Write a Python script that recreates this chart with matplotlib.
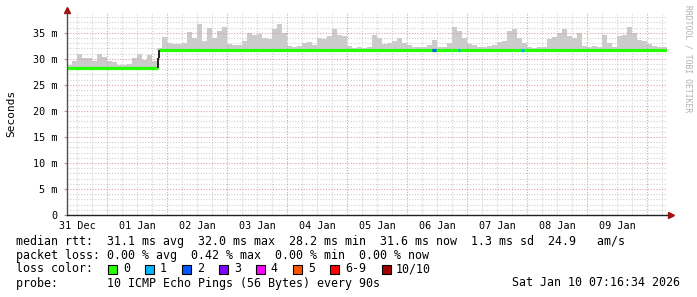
import matplotlib
matplotlib.use('Agg')
import matplotlib.pyplot as plt
from matplotlib.patches import Rectangle
import numpy as np

# ---------------- data ----------------
BIN_HOURS = 2          # smoke bins (hours since graph start, Dec 31 ~07:50)
TOTAL_HOURS = 240
smoke_top = [
    28.9, 29.6, 31.0, 30.2, 30.1, 29.6, 31.0, 30.3, 29.6, 29.3,
    28.8, 28.9, 29.0, 30.2, 31.0, 29.8, 30.8, 29.5, 32.0, 34.2,
    33.0, 32.9, 32.9, 33.0, 35.1, 34.1, 36.7, 33.4, 36.0, 34.0,
    35.4, 36.2, 32.8, 32.6, 32.6, 33.5, 35.0, 34.6, 34.8, 34.0,
    33.8, 35.7, 36.7, 35.0, 32.4, 32.3, 32.5, 33.0, 33.3, 32.6,
    34.0, 33.8, 34.4, 35.7, 34.5, 34.3, 32.4, 32.1, 32.3, 32.0,
    32.3, 34.5, 34.0, 32.8, 33.0, 33.5, 34.1, 33.0, 32.6, 32.3,
    32.2, 32.3, 32.6, 33.6, 32.3, 32.2, 33.0, 36.2, 35.3, 34.0,
    32.8, 32.6, 32.3, 32.2, 32.4, 32.6, 33.3, 33.5, 35.3, 35.7,
    34.0, 33.0, 32.2, 32.1, 32.3, 32.2, 33.9, 34.2, 35.0, 35.7,
    34.3, 34.0, 35.0, 32.5, 32.3, 32.4, 32.3, 34.6, 33.0, 32.3,
    34.3, 34.6, 36.2, 35.0, 33.7, 33.5, 32.8, 32.5, 32.3, 32.2,
]
median_edges = [0, 36.4, 36.8, 240]
median_vals = [28.2, 30.2, 31.7]
loss_seg_start = [146.0, 156.4, 181.6]
loss_seg_end = [147.6, 157.0, 182.8]
loss_seg_level = [2, 1, 1]

loss_labels = ['0', '1', '2', '3', '4', '5', '6-9', '10/10']
loss_colors = ['#26ff00', '#00b8ff', '#0059ff', '#7e00ff', '#ff00ff',
               '#ff5500', '#ff0000', '#a10000']

ytick_vals = [0, 5, 10, 15, 20, 25, 30, 35]
ytick_labels = ['0', '5 m', '10 m', '15 m', '20 m', '25 m', '30 m', '35 m']
day_labels = ['31 Dec', '01 Jan', '02 Jan', '03 Jan', '04 Jan',
              '05 Jan', '06 Jan', '07 Jan', '08 Jan', '09 Jan']
FIRST_MIDNIGHT = 16.17   # hours after start

legend_lines = [
    'median rtt:  31.1 ms avg  32.0 ms max  28.2 ms min  31.6 ms now  1.3 ms sd  24.9   am/s',
    'packet loss: 0.00 % avg  0.42 % max  0.00 % min  0.00 % now',
    'loss color:',
    'probe:       10 ICMP Echo Pings (56 Bytes) every 90s',
]
timestamp = 'Sat Jan 10 07:16:34 2026'

# ---------------- figure ----------------
W, H = 697, 297
plt.rcParams['font.family'] = ['DejaVu Sans Mono']
fig = plt.figure(figsize=(W / 100, H / 100), dpi=100)
fig.patch.set_facecolor('white')
L, R, T, B = 67, 667, 12, 215
ax = fig.add_axes([L / W, 1 - B / H, (R - L) / W, (B - T) / H])
ax.set_facecolor('white')
YMAX = 39.0
ax.set_xlim(0, TOTAL_HOURS)
ax.set_ylim(0, YMAX)

# grid (drawn over the smoke, like rrdtool)
minor_col = '#d0d0d0'
major_col = '#e2a0a0'
for v in np.arange(1, YMAX, 1):
    if v % 5 != 0:
        ax.axhline(v, color=minor_col, lw=0.8, ls=(0, (1, 1.5)), zorder=1.5)
for v in ytick_vals[1:]:
    ax.axhline(v, color=major_col, lw=0.8, ls=(0, (1, 1.5)), zorder=1.6)
m = FIRST_MIDNIGHT - 24
hours6 = np.arange(m, TOTAL_HOURS, 6)
for h in hours6:
    if h <= 0:
        continue
    is_major = abs(((h - FIRST_MIDNIGHT) / 24) - round((h - FIRST_MIDNIGHT) / 24)) < 1e-6
    ax.axvline(h, color=major_col if is_major else minor_col, lw=0.8,
               ls=(0, (1, 1.5)), zorder=1.6 if is_major else 1.5)

# smoke
edges = np.arange(len(smoke_top) + 1) * BIN_HOURS
centers = edges[:-1] + BIN_HOURS / 2
med_at = np.array([median_vals[np.searchsorted(median_edges, c, side='right') - 1]
                   if c > median_edges[2] else median_vals[0] for c in centers])
top = np.array(smoke_top)
ax.bar(edges[:-1], top - med_at, bottom=med_at, width=BIN_HOURS, align='edge',
       color='#cbcbcb', linewidth=0, zorder=1)

# median line
ax.vlines(median_edges[1:-1], median_vals[:-1], median_vals[1:], color='black',
          lw=1.2, zorder=3)
ax.hlines(median_vals, median_edges[:-1], median_edges[1:], color=loss_colors[0],
          lw=2.3, zorder=2)
for s, e, lv in zip(loss_seg_start, loss_seg_end, loss_seg_level):
    ax.hlines(median_vals[-1], s, e, color=loss_colors[lv], lw=2.3, zorder=2.5)

# axes styling
for sp in ['top', 'right']:
    ax.spines[sp].set_visible(False)
ax.spines['left'].set_color('#505050')
ax.spines['bottom'].set_color('#202020')
ax.spines['left'].set_linewidth(1.0)
ax.spines['bottom'].set_linewidth(1.0)
ax.spines['left'].set_zorder(4)
ax.spines['bottom'].set_zorder(4)
ax.set_yticks(ytick_vals)
ax.set_yticklabels(ytick_labels, fontsize=7.3)
ax.tick_params(axis='y', length=2, color='#a0a0a0', pad=5)
day_pos = [FIRST_MIDNIGHT - 12 + 24 * i for i in range(len(day_labels))]
ax.set_xticks(day_pos)
ax.set_xticklabels(day_labels, fontsize=7.3)
ax.tick_params(axis='x', length=0, pad=4)
ax.set_ylabel('Seconds', fontsize=8, labelpad=12)

# arrows
ax.plot([0], [1.012], marker='^', color='#a01010', markersize=4,
        transform=ax.transAxes, clip_on=False)
ax.plot([1.006], [0], marker='>', color='#a01010', markersize=4,
        transform=ax.transAxes, clip_on=False)

# side text
fig.text(688 / W, 1 - 5 / H, 'RRDTOOL / TOBI OETIKER', rotation=270,
         fontsize=5.8, color='#b0b0b0', ha='center', va='top')

# legend
def fx(x):
    return x / W

def fy(y):
    return 1 - y / H

ys = [241, 255, 269, 283]
for txt, y in zip(legend_lines, ys):
    fig.text(fx(16), fy(y), txt, fontsize=8.4, va='center', ha='left')
fig.text(fx(680), fy(283), timestamp, fontsize=8.4, va='center', ha='right')

bx = 108.3
for lab, col in zip(loss_labels, loss_colors):
    fig.patches.append(Rectangle((fx(bx), fy(273.5)), 9 / W, 9 / H,
                                 transform=fig.transFigure, facecolor=col,
                                 edgecolor='black', lw=0.8))
    fig.text(fx(bx + 14.5), fy(269), lab, fontsize=8.4, va='center', ha='left')
    bx += 37 + (len(lab) - 1) * 7.1

fig.savefig('out.png', dpi=100)
